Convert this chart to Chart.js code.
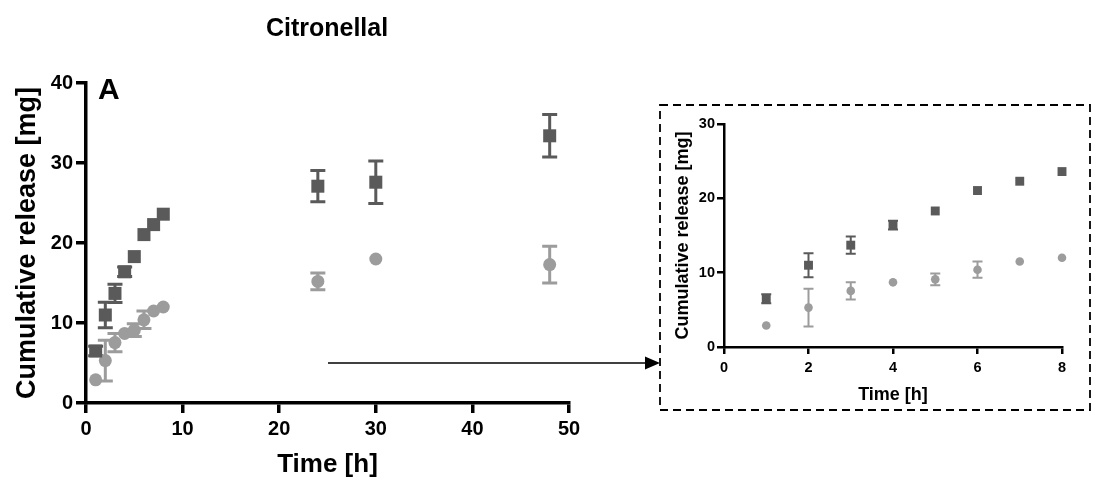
<!DOCTYPE html>
<html>
<head>
<meta charset="utf-8">
<script src="https://cdn.jsdelivr.net/npm/chart.js@4/dist/chart.umd.min.js"></script>
<style>
  html, body { margin: 0; padding: 0; background: #fff; }
  body { width: 1093px; height: 483px; position: relative; overflow: hidden; font-family: "Liberation Sans", Arial, sans-serif; }
  #mainWrap { position: absolute; left: 0; top: 0; width: 600px; height: 483px; }
  #insetWrap { position: absolute; left: 660px; top: 105px; width: 430px; height: 305px; }
  .lbl { position: absolute; font-weight: bold; color: #000; white-space: nowrap; }
  #title { left: 227px; top: 15px; width: 200px; text-align: center; font-size: 25px; line-height: 25px; }
  #panel { left: 98px; top: 74px; font-size: 30px; line-height: 30px; }
  svg { position: absolute; left: 0; top: 0; }
</style>
</head>
<body>
<div id="mainWrap"><canvas id="mainChart"></canvas></div>
<div id="insetWrap"><canvas id="insetChart"></canvas></div>
<svg width="1093" height="483">
  <rect x="660" y="105" width="430" height="305" fill="none" stroke="#000" stroke-width="1.8" stroke-dasharray="8 5"/>
  <line x1="328" y1="363" x2="648" y2="363" stroke="#000" stroke-width="1.3"/>
  <polygon points="645,356.5 660,363 645,369.5" fill="#000"/>
</svg>
<div class="lbl" id="title">Citronellal</div>
<div class="lbl" id="panel">A</div>
<script>
// ---- Data ----
const timeH      = [1, 2, 3, 4, 5, 6, 7, 8, 24, 30, 48];
const squareMean = [6.5, 11.0, 13.7, 16.4, 18.3, 21.05, 22.3, 23.6, 27.1, 27.6, 33.4];
const squareErr  = [0.6, 1.6, 1.15, 0.6, 0, 0, 0, 0, 1.95, 2.65, 2.65];
const circleMean = [2.9, 5.3, 7.55, 8.7, 9.1, 10.4, 11.5, 12.0, 15.2, 18.0, 17.3];
const circleErr  = [0, 2.55, 1.15, 0, 0.8, 1.1, 0, 0, 1.05, 0, 2.3];
const mainXTicks = [0, 10, 20, 30, 40, 50];
const mainYTicks = [0, 10, 20, 30, 40];
const insetXTicks = [0, 2, 4, 6, 8];
const insetYTicks = [0, 10, 20, 30];

const squareColor = '#5a5a5a';
const circleColor = '#9c9c9c';
const FONT = '"Liberation Sans", Arial, Helvetica, sans-serif';

function pts(xs, ys, errs, maxX) {
  const out = [];
  xs.forEach((x, i) => { if (x <= maxX) out.push({ x: x, y: ys[i], err: errs[i] }); });
  return out;
}

const errorBars = {
  id: 'errorBars',
  beforeDatasetsDraw(chart, args, opts) {
    const { ctx } = chart;
    const xs = chart.scales.x, ys = chart.scales.y;
    chart.data.datasets.forEach(ds => {
      ctx.save();
      ctx.strokeStyle = ds.backgroundColor;
      ctx.lineWidth = opts.lineWidth;
      ds.data.forEach(p => {
        if (!p.err) return;
        const px = xs.getPixelForValue(p.x);
        const y1 = ys.getPixelForValue(p.y + p.err);
        const y2 = ys.getPixelForValue(p.y - p.err);
        const c = opts.cap;
        ctx.beginPath();
        ctx.moveTo(px, y1); ctx.lineTo(px, y2);
        ctx.moveTo(px - c, y1); ctx.lineTo(px + c, y1);
        ctx.moveTo(px - c, y2); ctx.lineTo(px + c, y2);
        ctx.stroke();
      });
      ctx.restore();
    });
  }
};

function makeChart(id, cfg) {
  return new Chart(document.getElementById(id), {
    type: 'scatter',
    data: {
      datasets: [
        { label: 'square', data: pts(timeH, squareMean, squareErr, cfg.xMax), clip: false,
          pointStyle: 'rect', pointRadius: cfg.rectR, pointHoverRadius: cfg.rectR,
          backgroundColor: squareColor, borderColor: squareColor, borderWidth: 0 },
        { label: 'circle', data: pts(timeH, circleMean, circleErr, cfg.xMax), clip: false,
          pointStyle: 'circle', pointRadius: cfg.circR, pointHoverRadius: cfg.circR,
          backgroundColor: circleColor, borderColor: circleColor, borderWidth: 0 }
      ]
    },
    options: {
      responsive: true,
      maintainAspectRatio: false,
      animation: false,
      events: [],
      layout: { padding: cfg.padding },
      plugins: {
        legend: { display: false },
        tooltip: { enabled: false },
        errorBars: { lineWidth: cfg.errW, cap: cfg.cap }
      },
      scales: {
        x: {
          type: 'linear', min: 0, max: cfg.xMax,
          afterBuildTicks: s => { s.ticks = cfg.xTicks.map(v => ({ value: v })); },
          afterFit: s => { s.height = cfg.xAxisH; },
          grid: { drawOnChartArea: false, color: '#000', lineWidth: cfg.axisW, tickLength: cfg.tickLen, tickWidth: cfg.axisW },
          border: { color: '#000', width: cfg.axisW },
          ticks: { color: '#000', padding: cfg.xTickPad, font: { family: FONT, size: cfg.tickSize, weight: 'bold' } },
          title: { display: true, text: 'Time [h]', color: '#000', padding: cfg.xTitlePad,
                   font: { family: FONT, size: cfg.titleSize, weight: 'bold' } }
        },
        y: {
          type: 'linear', min: 0, max: cfg.yMax,
          afterBuildTicks: s => { s.ticks = cfg.yTicks.map(v => ({ value: v })); },
          afterFit: s => { s.width = cfg.yAxisW; },
          grid: { drawOnChartArea: false, color: '#000', lineWidth: cfg.axisW, tickLength: cfg.tickLen, tickWidth: cfg.axisW },
          border: { color: '#000', width: cfg.axisW },
          ticks: { color: '#000', padding: cfg.yTickPad, font: { family: FONT, size: cfg.tickSize, weight: 'bold' } },
          title: { display: true, text: 'Cumulative release [mg]', color: '#000', padding: cfg.yTitlePad,
                   font: { family: FONT, size: cfg.yTitleSize, weight: 'bold' } }
        }
      }
    },
    plugins: [errorBars]
  });
}

makeChart('mainChart', {
  xMax: 50, yMax: 40, xTicks: mainXTicks, yTicks: mainYTicks,
  rectR: 9.2, circR: 6.5, errW: 3, cap: 7.5,
  padding: { top: 83, right: 31, bottom: 0, left: 0 },
  xAxisH: 80, yAxisW: 86, axisW: 3.5, tickLen: 10,
  tickSize: 20, titleSize: 26, yTitleSize: 27, xTickPad: 4, yTickPad: 3,
  xTitlePad: { top: 3, bottom: 3 }, yTitlePad: { top: 11, bottom: 2 }
});

makeChart('insetChart', {
  xMax: 8, yMax: 30, xTicks: insetXTicks, yTicks: insetYTicks,
  rectR: 6.3, circR: 4.3, errW: 2, cap: 5,
  padding: { top: 19, right: 28, bottom: 0, left: 0 },
  xAxisH: 63, yAxisW: 64, axisW: 2.5, tickLen: 7,
  tickSize: 14.5, titleSize: 18, yTitleSize: 18, xTickPad: 5, yTickPad: 2,
  xTitlePad: { top: 4, bottom: 4 }, yTitlePad: { top: 12, bottom: 2 }
});
</script>
</body>
</html>
